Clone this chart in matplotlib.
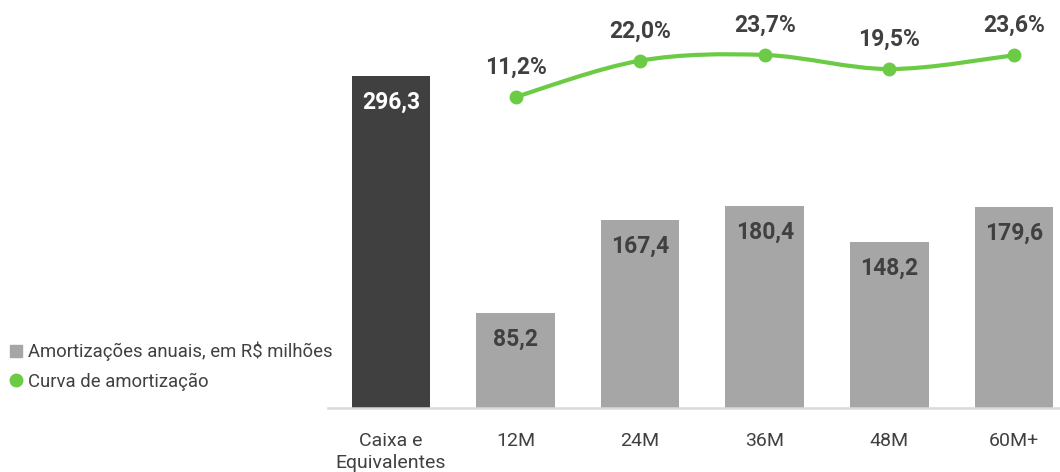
import numpy as np
import matplotlib
matplotlib.use("Agg")
import matplotlib.pyplot as plt
from matplotlib.path import Path
from matplotlib.patches import PathPatch
from matplotlib.lines import Line2D

plt.rcParams['font.family'] = ['Roboto', 'DejaVu Sans']

categories = ["Caixa e\nEquivalentes", "12M", "24M", "36M", "48M", "60M+"]
bar_values = [296.3, 85.2, 167.4, 180.4, 148.2, 179.6]
bar_labels = ["296,3", "85,2", "167,4", "180,4", "148,2", "179,6"]
curve_values = [11.2, 22.0, 23.7, 19.5, 23.6]
curve_labels = ["11,2%", "22,0%", "23,7%", "19,5%", "23,6%"]

DARK = "#404040"
GRAY = "#A6A6A6"
GREEN = "#6CCB45"
TEXT = "#404040"

fig = plt.figure(figsize=(10.6, 4.72), dpi=100)
ax = fig.add_axes([328/1060, 64/472, 1 - 328/1060, 408/472])

x = np.arange(len(categories))
colors = [DARK] + [GRAY] * (len(categories) - 1)
ax.bar(x, bar_values, width=0.63, color=colors, zorder=2)
ax.set_xlim(-0.505, 5.37)
ax.set_ylim(0, 364)

for xi, v, lab, c in zip(x, bar_values, bar_labels, colors):
    ax.annotate(lab, (xi, v), xytext=(0, -19), textcoords="offset points",
                ha="center", va="center", fontsize=16.5, fontweight="bold",
                color="white" if c == DARK else TEXT, zorder=4)

for s in ["top", "right", "left"]:
    ax.spines[s].set_visible(False)
ax.spines["bottom"].set_color("#D9D9D9")
ax.spines["bottom"].set_linewidth(1.8)
ax.set_yticks([])
ax.set_xticks(x)
ax.set_xticklabels(categories, fontsize=14, color=TEXT, linespacing=1.3)
ax.tick_params(axis="x", length=0, pad=17)

ax2 = ax.twinx()
ax2.set_ylim(-81.4, 40.06)
ax2.set_axis_off()
cx = x[1:].astype(float)
cy = np.array(curve_values, dtype=float)

# Smooth curve through the points (Catmull-Rom as cubic Bezier segments)
px = np.concatenate([[cx[0]], cx, [cx[-1]]])
py = np.concatenate([[cy[0]], cy, [cy[-1]]])
verts = [(cx[0], cy[0])]
codes = [Path.MOVETO]
t = 1 / 6.0
for i in range(1, len(px) - 2):
    p0 = np.array([px[i-1], py[i-1]]); p1 = np.array([px[i], py[i]])
    p2 = np.array([px[i+1], py[i+1]]); p3 = np.array([px[i+2], py[i+2]])
    c1 = p1 + (p2 - p0) * t
    c2 = p2 - (p3 - p1) * t
    verts += [tuple(c1), tuple(c2), tuple(p2)]
    codes += [Path.CURVE4] * 3
ax2.add_patch(PathPatch(Path(verts, codes), facecolor="none", edgecolor=GREEN,
                        lw=3, zorder=3))
ax2.plot(cx, cy, "o", color=GREEN, markersize=9, zorder=4)
for xi, v, lab in zip(cx, cy, curve_labels):
    ax2.annotate(lab, (xi, v), xytext=(0, 21.5), textcoords="offset points",
                 ha="center", va="center", fontsize=16.5, fontweight="bold",
                 color=TEXT)

handles = [Line2D([], [], marker="s", linestyle="none", color=GRAY, markersize=9),
           Line2D([], [], marker="o", linestyle="none", color=GREEN, markersize=9)]
fig.legend(handles, ["Amortizações anuais, em R$ milhões", "Curva de amortização"],
           loc="upper left", bbox_to_anchor=(0.004, 1 - 336/472), frameon=False,
           fontsize=13.3, labelcolor=TEXT, handlelength=0.7, handletextpad=0.3,
           labelspacing=0.62, borderaxespad=0, borderpad=0.3)

fig.savefig("out.png", dpi=100)
